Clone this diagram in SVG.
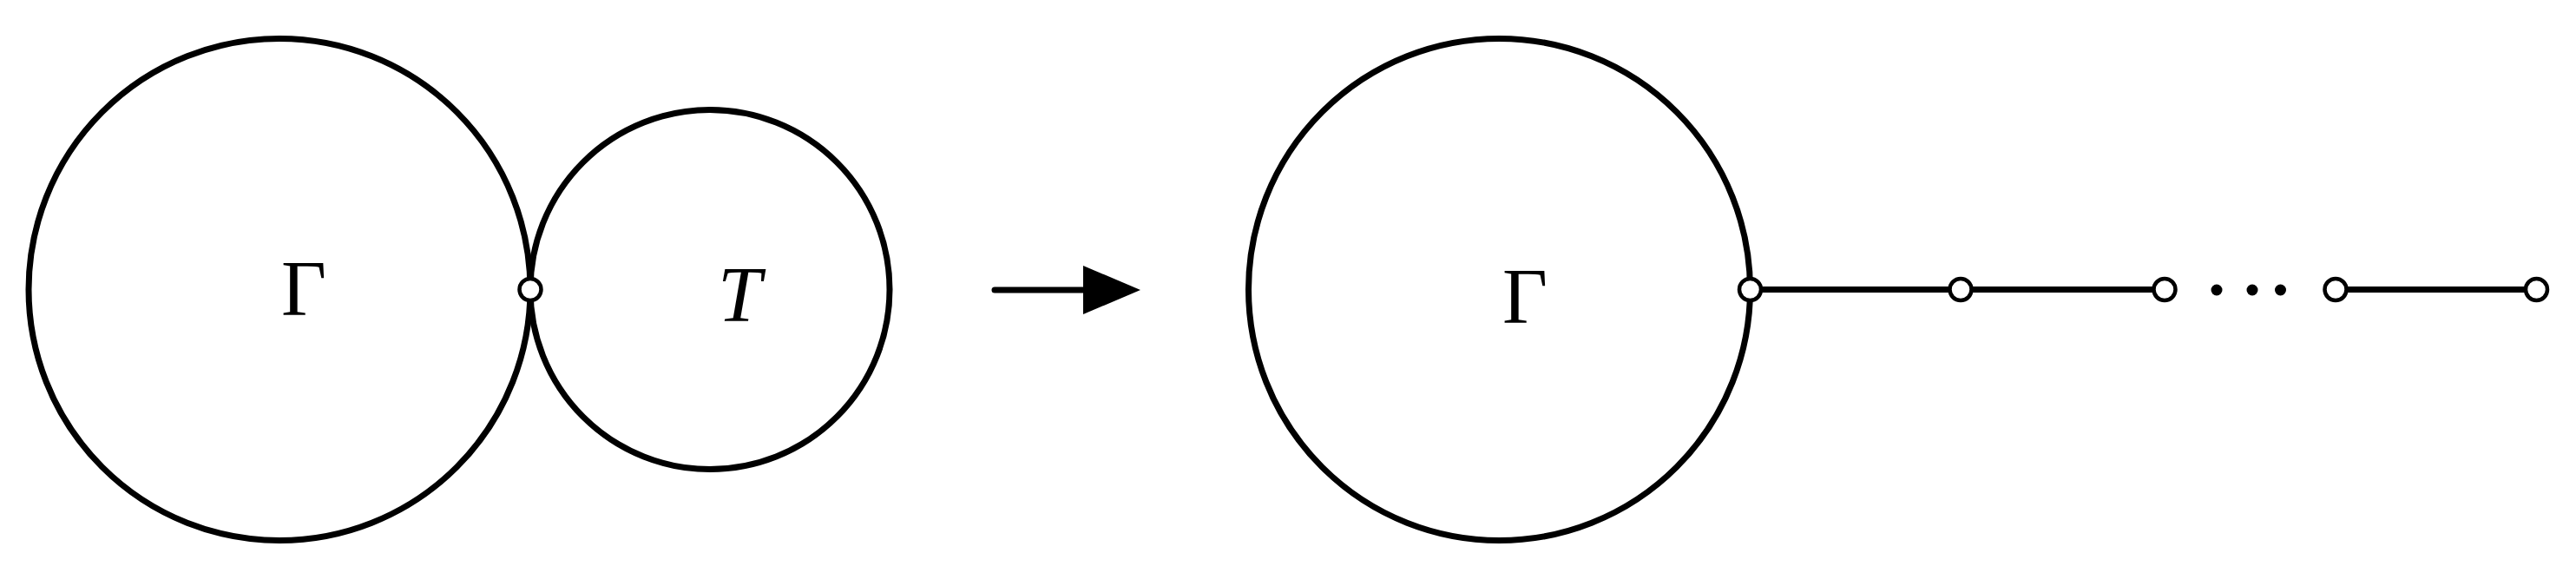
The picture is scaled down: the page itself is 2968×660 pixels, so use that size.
<svg xmlns="http://www.w3.org/2000/svg" width="2968" height="660" viewBox="0 0 2968 660">
<style>
.big{fill:none;stroke:#000;stroke-width:7}
.edge{stroke:#000;stroke-width:7;fill:none}
.v{fill:#fff;stroke:#000;stroke-width:4.5}
.dot{fill:#000}
.lbl{font-family:"Liberation Serif","Times New Roman",serif;font-size:90px;fill:#000;text-anchor:middle}
.it{font-style:italic}
</style>
<rect width="2968" height="660" fill="#fff"/>
<g id="gamma1">
<circle class="big" cx="322" cy="333.5" r="289"/>
<text class="lbl" x="350" y="363">Γ</text>
</g>
<g id="T">
<circle class="big" cx="818" cy="333.5" r="207"/>
<text class="lbl it" x="852" y="370">T</text>
</g>
<g id="arrow">
<line x1="1146" y1="334" x2="1252" y2="334" stroke="#000" stroke-width="7" stroke-linecap="round"/>
<polygon points="1248,306 1314,334 1248,362" fill="#000"/>
</g>
<g id="gamma2">
<circle class="big" cx="1727.5" cy="333.5" r="289"/>
<text class="lbl" x="1757" y="372">Γ</text>
</g>
<g id="connectors">
<line class="edge" x1="2016.5" y1="333.5" x2="2259" y2="333.5"/>
<line class="edge" x1="2259" y1="333.5" x2="2494" y2="333.5"/>
<line class="edge" x1="2691" y1="333.5" x2="2922.5" y2="333.5"/>
</g>
<g id="dots">
<circle class="dot" cx="2554" cy="334" r="6.5"/>
<circle class="dot" cx="2595" cy="334" r="6.5"/>
<circle class="dot" cx="2627.5" cy="334" r="6.5"/>
</g>
<g id="v0"><circle class="v" cx="611" cy="333.5" r="12.5"/></g>
<g id="v1"><circle class="v" cx="2016.5" cy="333.5" r="12.5"/></g>
<g id="v2"><circle class="v" cx="2259" cy="333.5" r="12.5"/></g>
<g id="v3"><circle class="v" cx="2494" cy="333.5" r="12.5"/></g>
<g id="v4"><circle class="v" cx="2691" cy="333.5" r="12.5"/></g>
<g id="v5"><circle class="v" cx="2922.5" cy="333.5" r="12.5"/></g>
</svg>
